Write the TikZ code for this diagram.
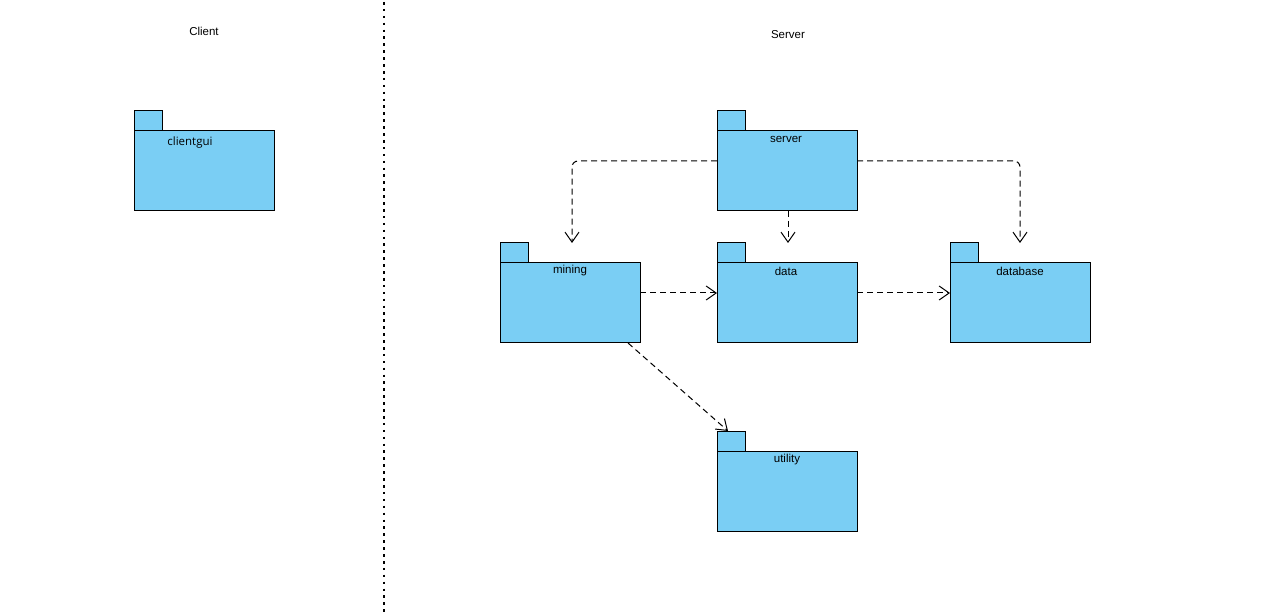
\documentclass[tikz,border=0pt]{standalone}
\usepackage{fontspec}
\setmainfont{Liberation Sans}
\newfontfamily\guifont{Open Sans}
\usetikzlibrary{arrows.meta}
\definecolor{pkgfill}{RGB}{122,206,244}
\tikzset{
  pkgbody/.style={draw=black, fill=pkgfill, line width=1pt, minimum width=140pt, minimum height=80pt, inner sep=0pt, outer sep=0pt},
  pkgtab/.style={draw=black, fill=pkgfill, line width=1pt},
  pkglabel/.style={font=\fontsize{11.5}{13}\selectfont, inner sep=0pt},
  heading/.style={font=\fontsize{11.5}{13}\selectfont, inner sep=0pt},
  dep/.style={draw=black, line width=1pt, dash pattern=on 6pt off 4pt, -{Straight Barb[length=10pt,width=14pt,line width=1pt]}},
  divider/.style={draw=black, line width=2.6pt, dash pattern=on 2.6pt off 4.3pt}
}
% package symbol: body with a tab on its upper-left corner
\newcommand\umlpkg[6]{% name, left x, top y, label, label x, label y
  \draw[pkgtab] (#2,#3) rectangle ++(28,-20);
  \node[pkgbody, anchor=north west] (#1) at (#2,#3) {};
  \node[pkglabel] (#1-label) at (#5,#6) {#4};
}
\begin{document}
\begin{tikzpicture}[x=1pt, y=-1pt]
\useasboundingbox (0,0) rectangle (1286,612);

% headings and divider
\node[heading] (client-title) at (204,31) {Client};
\node[heading] (server-title) at (788,35) {Server};
\draw[divider] (384,2) -- (384,612);

% packages
\umlpkg{clientgui}{134}{131}{\guifont clientgui}{190}{143}
\umlpkg{server}{717}{131}{server}{786}{139}
\umlpkg{mining}{500}{263}{mining}{570}{271}
\umlpkg{data}{717}{263}{data}{786}{271}
\umlpkg{database}{950}{263}{database}{1020}{271}
\umlpkg{utility}{717}{451}{utility}{787}{460}

% dependencies
\draw[dep, rounded corners=6pt] ([yshift=10pt]server.west) -| ([xshift=2pt,yshift=20pt]mining.north);
\draw[dep] ([xshift=1pt]server.south) -- ([xshift=1pt,yshift=20pt]data.north);
\draw[dep, rounded corners=6pt] ([yshift=10pt]server.east) -| ([yshift=20pt]database.north);
\draw[dep] ([yshift=10pt]mining.east) -- ([yshift=10pt]data.west);
\draw[dep] ([yshift=10pt]data.east) -- ([yshift=10pt]database.west);
\draw[dep] ([xshift=-12pt]mining.south east) -- ([xshift=11pt,yshift=20pt]utility.north west);
\end{tikzpicture}
\end{document}
